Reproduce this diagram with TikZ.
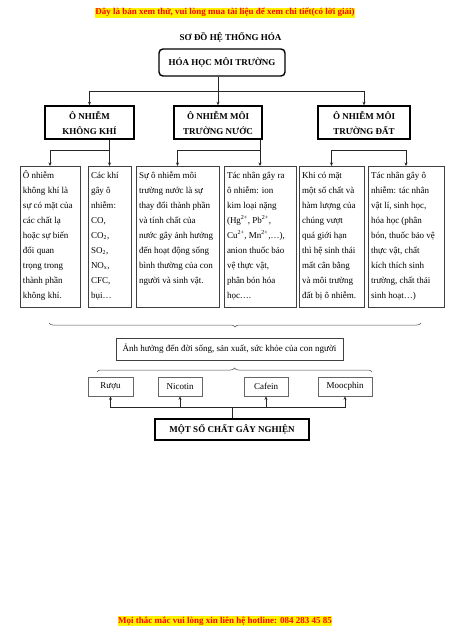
\documentclass[tikz,border=0pt]{standalone}
\usepackage{fontspec}
\setmainfont{Liberation Serif}
\usetikzlibrary{arrows.meta,calc,decorations.pathreplacing}

\tikzset{
  >={Stealth[length=3.5pt,width=3pt]},
  head/.style={draw, line width=1.4pt, font=\bfseries\fontsize{9}{15}\selectfont, align=center, minimum height=33pt, inner sep=2pt},
  leaf/.style={draw=black!75, line width=0.7pt, anchor=north, font=\fontsize{9}{15}\selectfont, align=flush left, inner xsep=3pt, inner ysep=3pt, text height=9pt, text depth=126pt},
  item/.style={draw=black!60, line width=0.7pt, font=\fontsize{9}{11}\selectfont, minimum height=19pt, inner sep=1pt},
  note/.style={fill=yellow, text=red, font=\bfseries\fontsize{9}{11}\selectfont, inner sep=0.6pt},
  link/.style={draw=black!85, line width=0.6pt},
  curly/.style={draw=black!70, line width=0.5pt, decorate, decoration={brace, amplitude=4pt}}
}

\begin{document}
\begin{tikzpicture}[x=1pt, y=-1pt]
\useasboundingbox (0,0) rectangle (450,637);

\node[note] (top) at (225,12.7) {Đây là bản xem thử, vui lòng mua tài liệu để xem chi tiết(có lời giải)};
\node[font=\bfseries\fontsize{9}{11}\selectfont] (title) at (230.5,37.7) {SƠ ĐỒ HỆ THỐNG HÓA};
\node[draw, rounded corners=4pt, line width=1.4pt, minimum width=126pt, minimum height=27pt, font=\bfseries\fontsize{9}{11}\selectfont] (root) at (222,62.5) {HÓA HỌC MÔI TRƯỜNG};

\node[head, minimum width=89pt] (khi) at (89.5,122.5) {Ô NHIỄM\\KHÔNG KHÍ};
\node[head, minimum width=88pt] (nuoc) at (218,122.5) {Ô NHIỄM MÔI\\TRƯỜNG NƯỚC};
\node[head, minimum width=92pt] (dat) at (364,122.5) {Ô NHIỄM MÔI\\TRƯỜNG ĐẤT};

\node[leaf, text width=54pt] (k1) at (50,166) {Ô nhiễm\\không khí là\\sự có mặt của\\các chất lạ\\hoặc sự biến\\đổi quan\\trọng trong\\thành phần\\không khí.};
\node[leaf, text width=37pt] (k2) at (109.5,166) {Các khí\\gây ô\\nhiễm:\\CO,\\CO\textsubscript{2},\\SO\textsubscript{2},\\NO\textsubscript{x},\\CFC,\\bụi…};
\node[leaf, text width=77pt] (n1) at (177.5,166) {Sự ô nhiễm môi\\trường nước là sự\\thay đổi thành phần\\và tính chất của\\nước gây ảnh hưởng\\đến hoạt động sống\\bình thường của con\\người và sinh vật.};
\node[leaf, text width=66pt] (n2) at (260,166) {Tác nhân gây ra\\ô nhiễm: ion\\kim loại nặng\\(Hg\textsuperscript{2+}, Pb\textsuperscript{2+},\\Cu\textsuperscript{2+}, Mn\textsuperscript{2+},…),\\anion thuốc bảo\\vệ thực vật,\\phân bón hóa\\học….};
\node[leaf, text width=59pt] (d1) at (331.5,166) {Khi có mặt\\một số chất và\\hàm lượng của\\chúng vượt\\quá giới hạn\\thì hệ sinh thái\\mất cân bằng\\và môi trường\\đất bị ô nhiễm.};
\node[leaf, text width=70pt] (d2) at (406,166) {Tác nhân gây ô\\nhiễm: tác nhân\\vật lí, sinh học,\\hóa học (phân\\bón, thuốc bảo vệ\\thực vật, chất\\kích thích sinh\\trường, chất thải\\sinh hoạt…)};

\node[draw=black!75, line width=0.7pt, minimum width=227pt, minimum height=22pt, font=\fontsize{9}{11}\selectfont] (anh) at (229.5,349) {Ảnh hưởng đến đời sống, sản xuất, sức khỏe của con người};

\node[item, minimum width=45pt] (ruou) at (110.5,386.5) {Rượu};
\node[item, minimum width=44pt] (nico) at (180,386.5) {Nicotin};
\node[item, minimum width=44pt] (cafe) at (266,386.5) {Cafein};
\node[item, minimum width=54pt] (mooc) at (345,386.5) {Moocphin};

\node[head, minimum width=154pt, minimum height=21pt] (nghien) at (232,429.5) {MỘT SỐ CHẤT GÂY NGHIỆN};

\node[note] (foot) at (225,621) {Mọi thắc mắc vui lòng xin liên hệ hotline: 084 283 45 85};

\coordinate (rj) at ($(root.south -| nuoc.north)!0.5!(nuoc.north)$);
\draw[link, ->] (root.south -| nuoc.north) -- (nuoc.north);
\draw[link, ->] (rj) -| (khi.north);
\draw[link, ->] (rj) -| (dat.north);

\coordinate (kj) at ($(khi.south -| k2.north)!0.4!(k2.north)$);
\draw[link, ->] (khi.south -| k2.north) -- (k2.north);
\draw[link, ->] (kj) -| (k1.north);

\coordinate (nj) at ($(nuoc.south -| n2.north)!0.4!(n2.north)$);
\draw[link, ->] (nuoc.south -| n2.north) -- (n2.north);
\draw[link, ->] (nj) -| (n1.north);

\draw[link, <->] (d1.north) -- ++(0,-16) -| (d2.north);

\coordinate (b1l) at (49,323);
\coordinate (b1r) at (421,323);
\draw[curly, decoration={mirror}] (b1l) -- (b1r);
\coordinate (b2l) at (97,372);
\coordinate (b2r) at (372,372);
\draw[curly] (b2l) -- (b2r);

\coordinate (gj) at ($(nghien.north)!0.5!(nghien.north |- ruou.south)$);
\draw[link] (nghien.north) -- (gj);
\draw[link, ->] (gj) -| (ruou.south);
\draw[link, ->] (gj) -| (nico.south);
\draw[link, ->] (gj) -| (cafe.south);
\draw[link, ->] (gj) -| (mooc.south);
\end{tikzpicture}
\end{document}
